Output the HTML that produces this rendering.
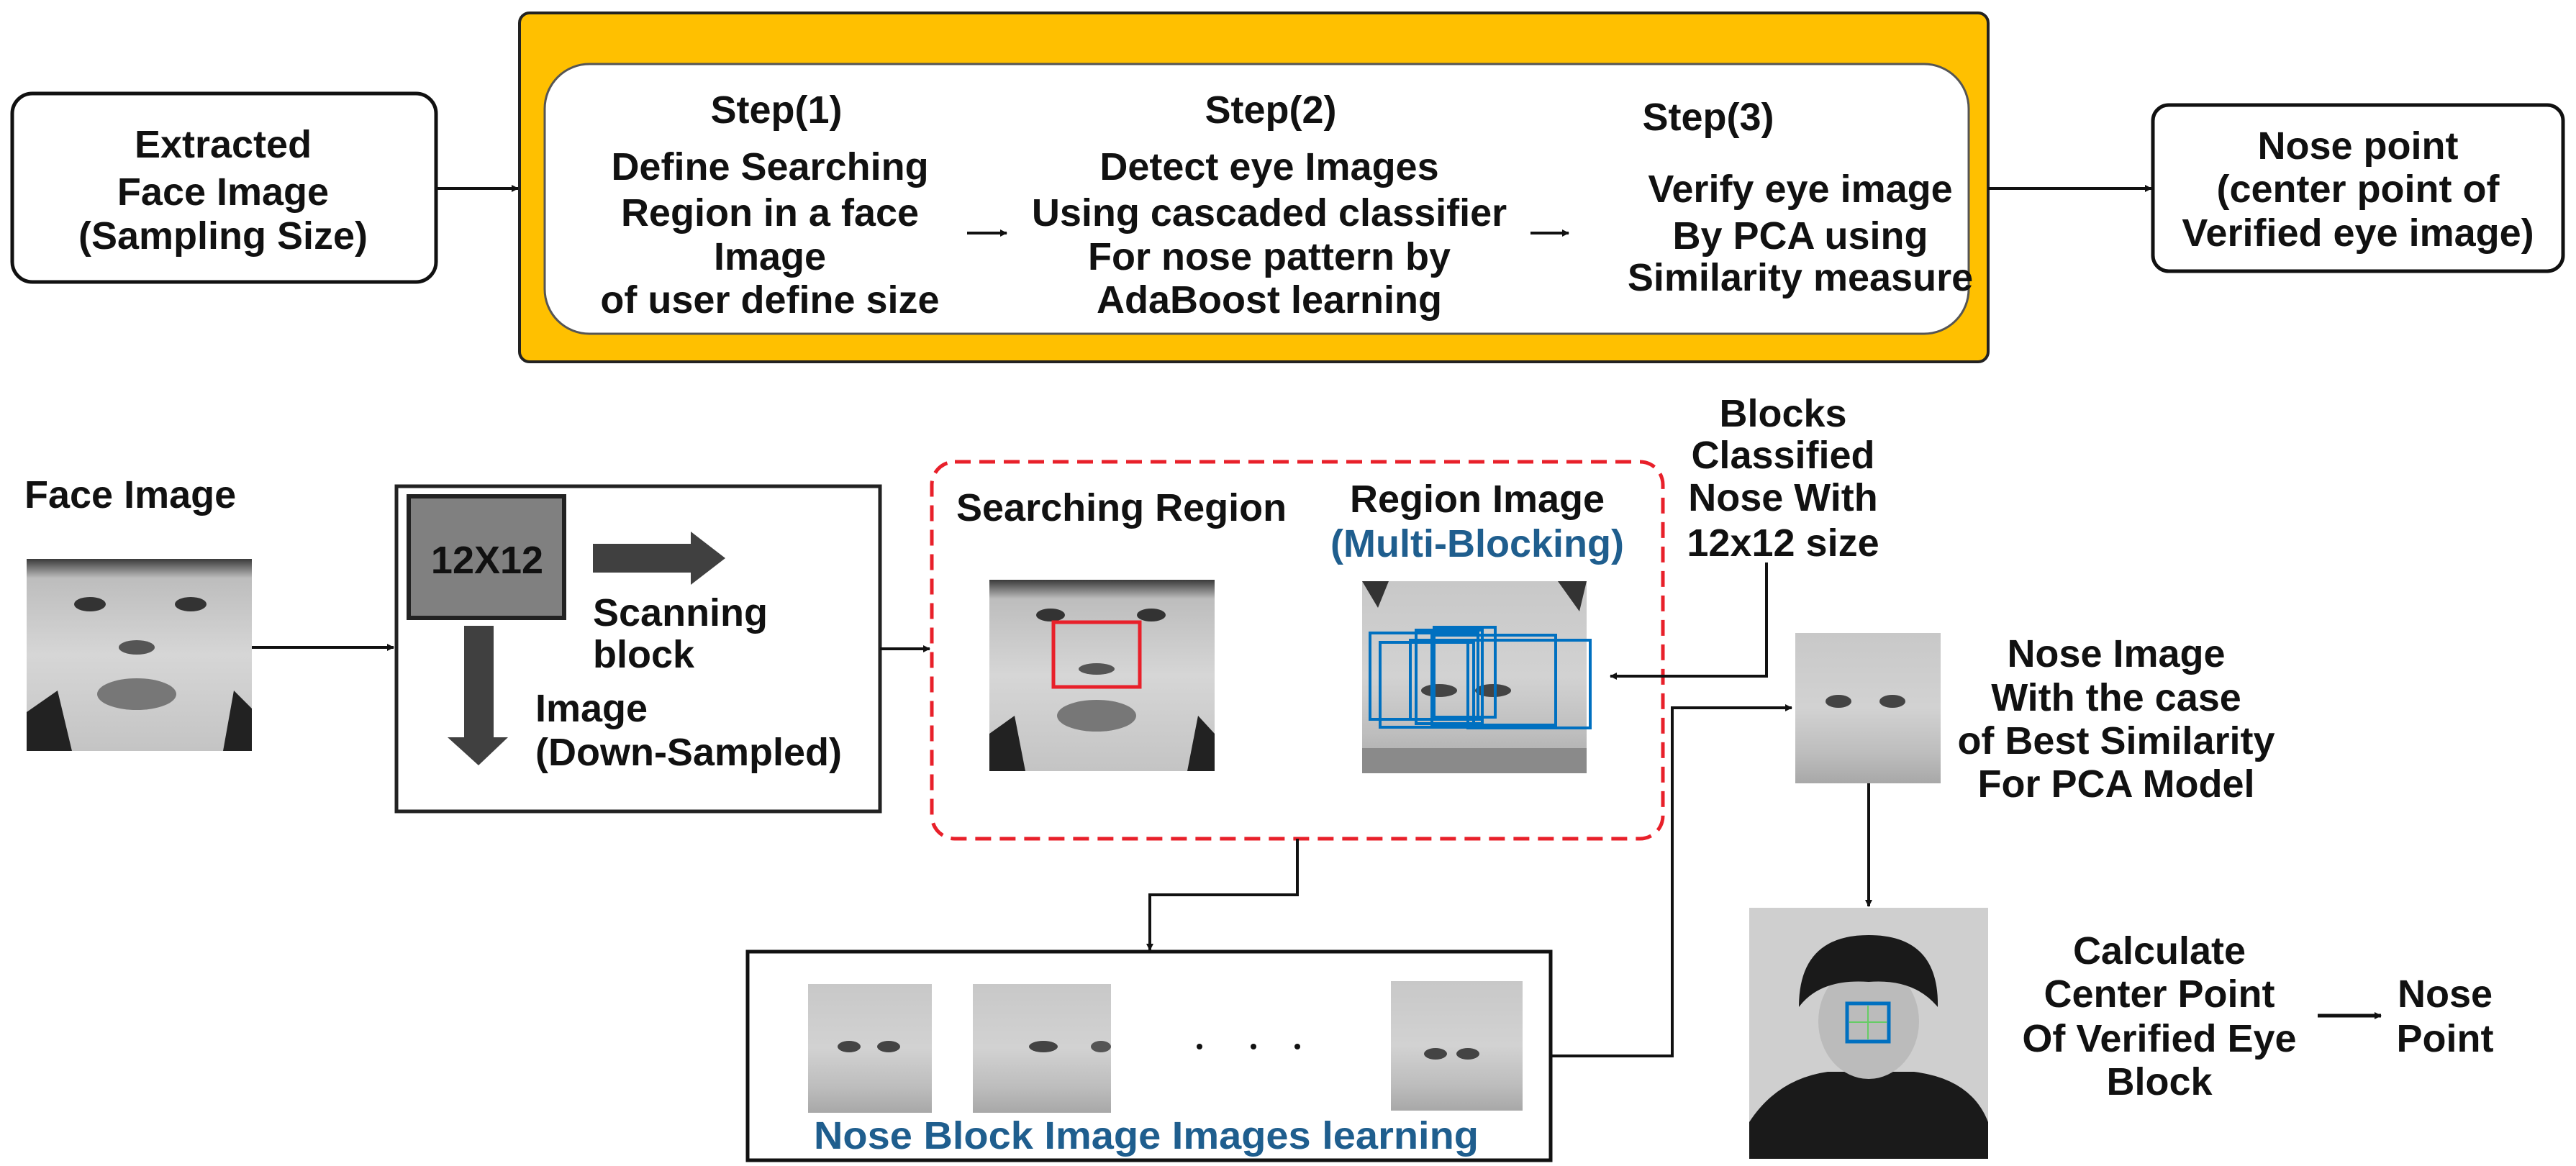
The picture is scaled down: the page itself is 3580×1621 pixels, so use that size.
<!DOCTYPE html>
<html><head><meta charset="utf-8"><style>
html,body{margin:0;padding:0;background:#fff;}
svg{display:block;}
text{font-family:"Liberation Sans",Arial,sans-serif;font-weight:bold;font-size:54px;fill:#111;}
.c{text-anchor:middle;}
.b{fill:#1f5e8e;}
</style></head><body>
<svg width="3580" height="1621" viewBox="0 0 3580 1621" xmlns="http://www.w3.org/2000/svg">
<defs>
<marker id="ah" markerWidth="10" markerHeight="10" refX="9" refY="5" orient="auto" markerUnits="userSpaceOnUse" viewBox="0 0 10 10"><path d="M0,0 L10,5 L0,10 z" fill="#111"/></marker>
<marker id="ah2" markerWidth="16" markerHeight="14" refX="15" refY="7" orient="auto" markerUnits="userSpaceOnUse" viewBox="0 0 16 14"><path d="M0,0 L16,7 L0,14 z" fill="#111"/></marker>
<linearGradient id="face" x1="0" y1="0" x2="0" y2="1"><stop offset="0" stop-color="#3a3a3a"/><stop offset="0.1" stop-color="#bdbdbd"/><stop offset="0.5" stop-color="#d6d6d6"/><stop offset="1" stop-color="#c4c4c4"/></linearGradient>
<linearGradient id="nose" x1="0" y1="0" x2="0" y2="1"><stop offset="0" stop-color="#c8c8c8"/><stop offset="0.5" stop-color="#d2d2d2"/><stop offset="0.8" stop-color="#bdbdbd"/><stop offset="1" stop-color="#a8a8a8"/></linearGradient>
</defs>

<!-- TOP ROW -->
<rect x="17" y="130" width="589" height="262" rx="28" fill="#fff" stroke="#111" stroke-width="5"/>
<text class="c" x="310" y="219">Extracted</text>
<text class="c" x="310" y="285">Face Image</text>
<text class="c" x="310" y="346">(Sampling Size)</text>
<line x1="606" y1="262" x2="720" y2="262" stroke="#111" stroke-width="4" marker-end="url(#ah)"/>

<rect x="722" y="18" width="2041" height="485" rx="14" fill="#ffc000" stroke="#222" stroke-width="4"/>
<rect x="757" y="89" width="1979" height="375" rx="62" fill="#fff" stroke="#555" stroke-width="3"/>

<text class="c" x="1079" y="171">Step(1)</text>
<text class="c" x="1070" y="250">Define Searching</text>
<text class="c" x="1070" y="314">Region in a face</text>
<text class="c" x="1070" y="375">Image</text>
<text class="c" x="1070" y="435">of user define size</text>

<line x1="1344" y1="324" x2="1399" y2="324" stroke="#111" stroke-width="4" marker-end="url(#ah)"/>

<text class="c" x="1766" y="171">Step(2)</text>
<text class="c" x="1764" y="250">Detect eye Images</text>
<text class="c" x="1764" y="314">Using cascaded classifier</text>
<text class="c" x="1764" y="375">For nose pattern by</text>
<text class="c" x="1764" y="435">AdaBoost learning</text>

<line x1="2127" y1="324" x2="2180" y2="324" stroke="#111" stroke-width="4" marker-end="url(#ah)"/>

<text class="c" x="2374" y="181">Step(3)</text>
<text class="c" x="2502" y="281">Verify eye image</text>
<text class="c" x="2502" y="346">By PCA using</text>
<text class="c" x="2502" y="404">Similarity measure</text>

<line x1="2763" y1="262" x2="2990" y2="262" stroke="#111" stroke-width="4" marker-end="url(#ah)"/>
<rect x="2992" y="146" width="570" height="231" rx="22" fill="#fff" stroke="#111" stroke-width="5"/>
<text class="c" x="3277" y="221">Nose point</text>
<text class="c" x="3277" y="281">(center point of</text>
<text class="c" x="3277" y="342">Verified eye image)</text>

<!-- BOTTOM -->
<text x="34" y="706">Face Image</text>
<g>
<rect x="37" y="777" width="313" height="267" fill="url(#face)"/>
<path d="M37,990 L80,960 L100,1044 L37,1044z" fill="#222"/>
<path d="M350,985 L325,960 L310,1044 L350,1044z" fill="#222"/>
<ellipse cx="125" cy="840" rx="22" ry="10" fill="#333"/>
<ellipse cx="265" cy="840" rx="22" ry="10" fill="#333"/>
<ellipse cx="190" cy="900" rx="25" ry="10" fill="#555"/>
<ellipse cx="190" cy="965" rx="55" ry="22" fill="#777"/>
</g>
<line x1="350" y1="900" x2="547" y2="900" stroke="#111" stroke-width="4" marker-end="url(#ah)"/>

<rect x="551" y="676" width="672" height="452" fill="#fff" stroke="#222" stroke-width="5"/>
<rect x="568" y="690" width="216" height="169" fill="#808080" stroke="#222" stroke-width="6"/>
<text class="c" x="677" y="797">12X12</text>
<path d="M824,756 L960,756 L960,739 L1008,776 L960,813 L960,796 L824,796z" fill="#404040"/>
<text x="824" y="870">Scanning</text>
<text x="824" y="928">block</text>
<path d="M645,870 L686,870 L686,1025 L706,1025 L665,1064 L622,1025 L645,1025z" fill="#404040"/>
<text x="744" y="1003">Image</text>
<text x="744" y="1064">(Down-Sampled)</text>
<line x1="1223" y1="902" x2="1292" y2="902" stroke="#111" stroke-width="4" marker-end="url(#ah)"/>

<rect x="1295" y="642" width="1016" height="524" rx="32" fill="none" stroke="#e8202a" stroke-width="5" stroke-dasharray="22 12"/>
<text x="1329" y="724">Searching Region</text>
<g>
<rect x="1375" y="806" width="313" height="266" fill="url(#face)"/>
<path d="M1375,1020 L1410,995 L1425,1072 L1375,1072z" fill="#222"/>
<path d="M1688,1020 L1665,995 L1650,1072 L1688,1072z" fill="#222"/>
<ellipse cx="1460" cy="855" rx="20" ry="9" fill="#333"/>
<ellipse cx="1600" cy="855" rx="20" ry="9" fill="#333"/>
<ellipse cx="1524" cy="995" rx="55" ry="22" fill="#777"/>
<ellipse cx="1524" cy="930" rx="25" ry="8" fill="#555"/>
<rect x="1464" y="865" width="120" height="90" fill="none" stroke="#e8202a" stroke-width="5"/>
</g>
<text class="c" x="2053" y="712">Region Image</text>
<text class="c b" x="2053" y="774">(Multi-Blocking)</text>
<g>
<rect x="1893" y="808" width="312" height="267" fill="url(#nose)"/>
<path d="M1893,808 L1930,808 L1915,845z M2205,808 L2165,808 L2195,850z" fill="#333"/>
<ellipse cx="2000" cy="960" rx="25" ry="9" fill="#444"/>
<ellipse cx="2075" cy="960" rx="25" ry="9" fill="#444"/>
<rect x="1893" y="1040" width="312" height="35" fill="#8a8a8a"/>
<g fill="none" stroke="#0070c0" stroke-width="4">
<rect x="1904" y="880" width="150" height="120"/>
<rect x="1918" y="893" width="130" height="118"/>
<rect x="1968" y="876" width="92" height="130"/>
<rect x="1993" y="872" width="85" height="125"/>
<rect x="1990" y="883" width="172" height="125"/>
<rect x="2040" y="890" width="170" height="122"/>
<rect x="1960" y="890" width="100" height="110"/>
</g>
</g>

<text class="c" x="2478" y="593">Blocks</text>
<text class="c" x="2478" y="651">Classified</text>
<text class="c" x="2478" y="710">Nose With</text>
<text class="c" x="2478" y="773">12x12 size</text>
<polyline points="2455,782 2455,940 2238,940" fill="none" stroke="#111" stroke-width="4" marker-end="url(#ah)"/>

<polyline points="1803,1166 1803,1244 1598,1244 1598,1321" fill="none" stroke="#111" stroke-width="4" marker-end="url(#ah)"/>
<rect x="1039" y="1323" width="1116" height="290" fill="#fff" stroke="#111" stroke-width="5"/>
<g>
<rect x="1123" y="1368" width="172" height="179" fill="url(#nose)"/>
<ellipse cx="1180" cy="1455" rx="16" ry="8" fill="#444"/><ellipse cx="1235" cy="1455" rx="16" ry="8" fill="#444"/>
<rect x="1352" y="1368" width="192" height="179" fill="url(#nose)"/>
<ellipse cx="1450" cy="1455" rx="20" ry="8" fill="#444"/><ellipse cx="1530" cy="1455" rx="14" ry="8" fill="#555"/>
<rect x="1933" y="1364" width="183" height="180" fill="url(#nose)"/>
<ellipse cx="1995" cy="1465" rx="16" ry="8" fill="#444"/><ellipse cx="2040" cy="1465" rx="16" ry="8" fill="#444"/>
<circle cx="1667" cy="1455" r="4" fill="#111"/><circle cx="1742" cy="1455" r="4" fill="#111"/><circle cx="1803" cy="1455" r="4" fill="#111"/>
</g>
<text class="b" x="1131" y="1597" textLength="924" lengthAdjust="spacingAndGlyphs">Nose Block Image Images learning</text>

<polyline points="2155,1468 2324,1468 2324,984 2490,984" fill="none" stroke="#111" stroke-width="4" marker-end="url(#ah)"/>
<g>
<rect x="2495" y="880" width="202" height="209" fill="url(#nose)"/>
<ellipse cx="2555" cy="975" rx="18" ry="9" fill="#444"/><ellipse cx="2630" cy="975" rx="18" ry="9" fill="#444"/>
</g>
<text class="c" x="2941" y="927">Nose Image</text>
<text class="c" x="2941" y="988">With the case</text>
<text class="c" x="2941" y="1048">of Best Similarity</text>
<text class="c" x="2941" y="1108">For PCA Model</text>
<line x1="2597" y1="1089" x2="2597" y2="1260" stroke="#111" stroke-width="4" marker-end="url(#ah)"/>

<g>
<rect x="2431" y="1262" width="332" height="349" fill="#cfcfcf"/>
<path d="M2431,1560 Q2470,1500 2540,1490 L2660,1490 Q2740,1500 2763,1560 L2763,1611 L2431,1611z" fill="#1a1a1a"/>
<ellipse cx="2597" cy="1420" rx="70" ry="80" fill="#bbb"/>
<path d="M2500,1400 Q2500,1300 2597,1300 Q2695,1300 2693,1400 Q2660,1360 2597,1365 Q2530,1360 2500,1400z" fill="#1a1a1a"/>
<rect x="2567" y="1395" width="58" height="53" fill="none" stroke="#0070c0" stroke-width="5"/>
<line x1="2596" y1="1398" x2="2596" y2="1445" stroke="#6c6" stroke-width="2"/>
<line x1="2570" y1="1421" x2="2622" y2="1421" stroke="#6c6" stroke-width="2"/>
</g>
<text class="c" x="3001" y="1340">Calculate</text>
<text class="c" x="3001" y="1400">Center Point</text>
<text class="c" x="3001" y="1462">Of Verified Eye</text>
<text class="c" x="3001" y="1522">Block</text>
<line x1="3221" y1="1412" x2="3309" y2="1412" stroke="#111" stroke-width="5" marker-end="url(#ah)"/>
<text class="c" x="3398" y="1400">Nose</text>
<text class="c" x="3398" y="1462">Point</text>
</svg>
</body></html>
